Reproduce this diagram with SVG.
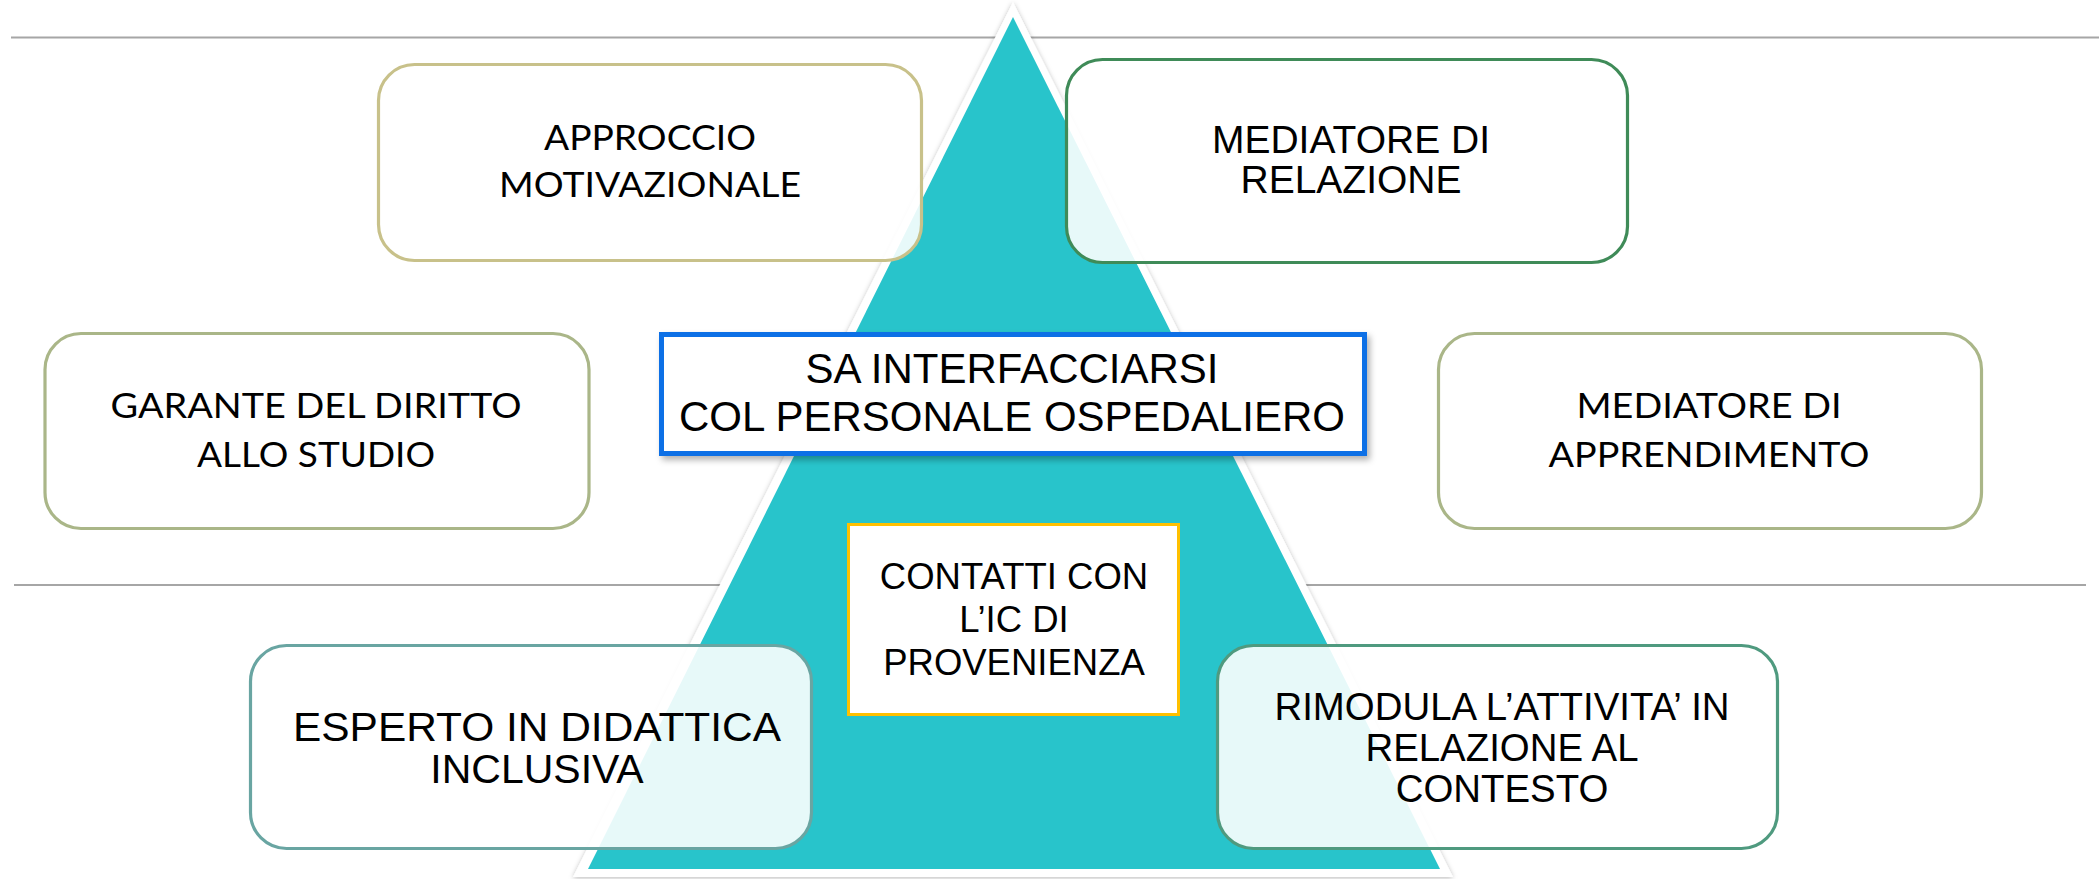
<svg xmlns="http://www.w3.org/2000/svg" width="2099" height="879" viewBox="0 0 2099 879">
<defs>
<filter id="triShadow" x="-10%" y="-10%" width="120%" height="120%">
<feDropShadow dx="0" dy="1" stdDeviation="2.5" flood-color="#000" flood-opacity="0.28"/>
</filter>
<filter id="boxShadow" x="-5%" y="-10%" width="110%" height="125%">
<feDropShadow dx="3" dy="4" stdDeviation="3" flood-color="#000" flood-opacity="0.3"/>
</filter>
</defs>
<style>
.rule{stroke:#A6A6A6;stroke-width:2;fill:none}
.rbox{fill:#FFFFFF;fill-opacity:0.89;stroke-width:3.2}
.cal{font-family:Lato,"Open Sans","Noto Sans",sans-serif;font-size:35px;fill:#000;text-anchor:middle}
.ari{font-family:"Liberation Sans",Arial,sans-serif;fill:#000;text-anchor:middle}
</style>
<rect width="2099" height="879" fill="#FFFFFF"/>
<g id="rules">
<line class="rule" x1="11" y1="37.5" x2="2099" y2="37.5"/>
<line class="rule" x1="14" y1="585" x2="2086" y2="585"/>
</g>
<g id="pyramid">
<polygon points="1013,2 573,877 1453,877" fill="#FFFFFF" filter="url(#triShadow)"/>
<polygon points="1013,17 588,869 1440,869" fill="#28C4CB"/>
</g>
<g id="connectors"></g>
<g id="node-approccio">
<rect class="rbox" x="378.5" y="64.5" width="543" height="196" rx="36" stroke="#C8C18A"/>
<text class="cal" x="650" y="150" textLength="212" lengthAdjust="spacingAndGlyphs">APPROCCIO</text>
<text class="cal" x="650" y="197" textLength="302" lengthAdjust="spacingAndGlyphs">MOTIVAZIONALE</text>
</g>
<g id="node-mediatore-relazione">
<rect class="rbox" x="1066.5" y="59.5" width="561" height="203" rx="36" stroke="#3F8B58"/>
<text class="ari" x="1351" y="153" font-size="39">MEDIATORE DI</text>
<text class="ari" x="1351" y="193" font-size="39">RELAZIONE</text>
</g>
<g id="node-garante">
<rect class="rbox" x="45" y="333.5" width="544" height="195" rx="36" stroke="#AAB688"/>
<text class="cal" x="316" y="418" textLength="411" lengthAdjust="spacingAndGlyphs">GARANTE DEL DIRITTO</text>
<text class="cal" x="316" y="467" textLength="238" lengthAdjust="spacingAndGlyphs">ALLO STUDIO</text>
</g>
<g id="node-mediatore-apprendimento">
<rect class="rbox" x="1438.5" y="333.5" width="543" height="195" rx="36" stroke="#AAB688"/>
<text class="cal" x="1709" y="418" textLength="265" lengthAdjust="spacingAndGlyphs">MEDIATORE DI</text>
<text class="cal" x="1709" y="467" textLength="321" lengthAdjust="spacingAndGlyphs">APPRENDIMENTO</text>
</g>
<g id="node-interfacciarsi">
<rect x="661.5" y="334.5" width="703" height="119" fill="#FFFFFF" stroke="#0A6FE6" stroke-width="5" filter="url(#boxShadow)"/>
<text class="ari" x="1012" y="383" font-size="42">SA INTERFACCIARSI</text>
<text class="ari" x="1012" y="431" font-size="42">COL PERSONALE OSPEDALIERO</text>
</g>
<g id="node-contatti">
<rect x="848.5" y="524.5" width="330" height="190" fill="#FFFFFF" stroke="#FFC000" stroke-width="3"/>
<text class="ari" x="1014" y="589" font-size="36.5">CONTATTI CON</text>
<text class="ari" x="1014" y="632" font-size="36.5">L’IC DI</text>
<text class="ari" x="1014" y="675" font-size="36.5">PROVENIENZA</text>
</g>
<g id="node-esperto">
<rect class="rbox" x="250.5" y="645.5" width="561" height="203" rx="36" stroke="#69A5A2"/>
<text class="ari" x="537" y="741" font-size="41" textLength="488" lengthAdjust="spacingAndGlyphs">ESPERTO IN DIDATTICA</text>
<text class="ari" x="537" y="783" font-size="41">INCLUSIVA</text>
</g>
<g id="node-rimodula">
<rect class="rbox" x="1217.5" y="645.5" width="560" height="203" rx="36" stroke="#4F9A7F"/>
<text class="ari" x="1502" y="720" font-size="38.4">RIMODULA L’ATTIVITA’ IN</text>
<text class="ari" x="1502" y="761" font-size="38.4">RELAZIONE AL</text>
<text class="ari" x="1502" y="802" font-size="38.4">CONTESTO</text>
</g>
</svg>
